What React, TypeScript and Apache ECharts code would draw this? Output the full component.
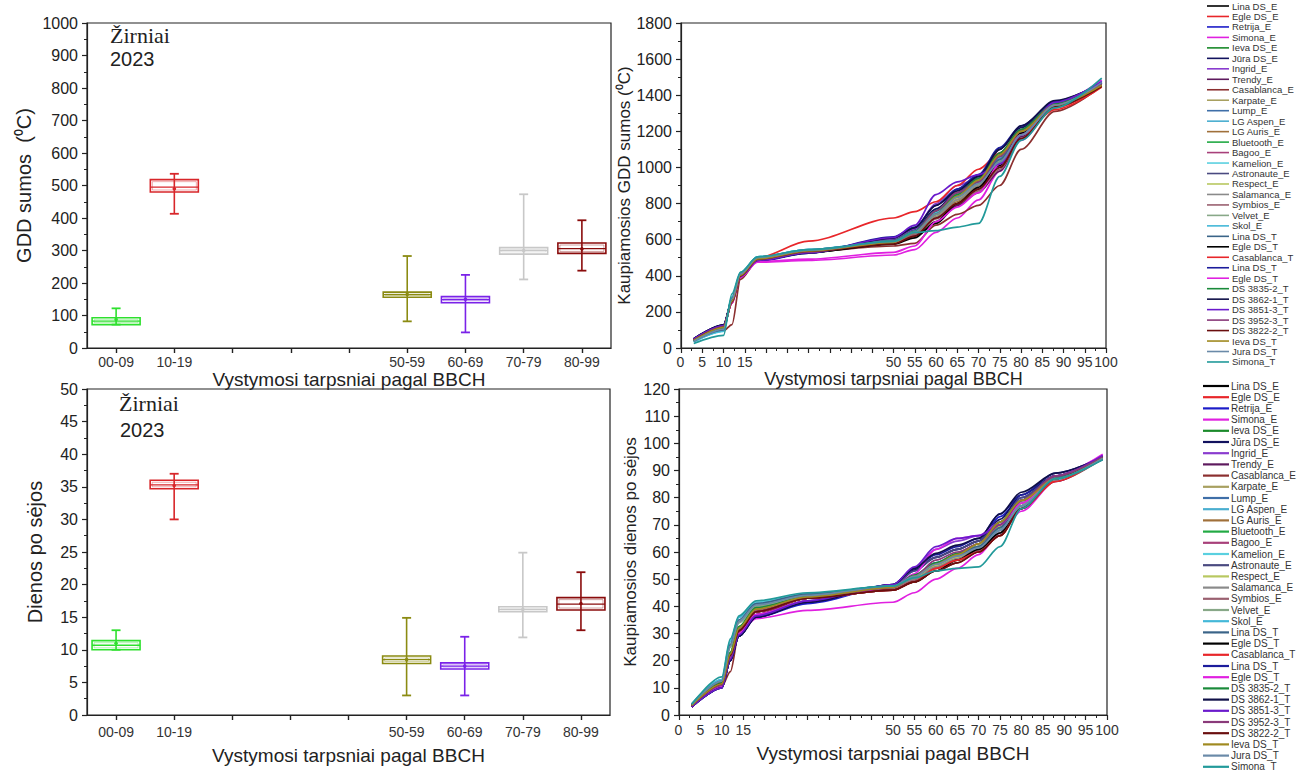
import React, { useEffect, useRef } from "react";
import * as echarts from "echarts";

// ---------- Box plot data (BBCH stage ranges) ----------
const stageLabels = ["00-09", "10-19", "", "", "", "50-59", "60-69", "70-79", "80-99"];

// GDD sums (°C)
const gddMin = [72, 413, null, null, null, 82, 48, 211, 238];
const gddQ1 = [72, 480, null, null, null, 156, 139, 289, 291];
const gddMedian = [83, 495, null, null, null, 164, 149, 300, 306];
const gddQ3 = [93, 518, null, null, null, 172, 158, 309, 323];
const gddMax = [122, 536, null, null, null, 283, 225, 473, 393];
const gddMean = [88, 490, null, null, null, 165, 150, 300, 305];

// Days after sowing
const daysMin = [10, 30, null, null, null, 3, 3, 11.9, 13];
const daysQ1 = [10, 34.7, null, null, null, 7.9, 7.05, 15.85, 16.1];
const daysMedian = [10.7, 35.3, null, null, null, 8.5, 7.5, 16.2, 17];
const daysQ3 = [11.4, 36, null, null, null, 9.05, 8, 16.6, 18];
const daysMax = [13, 37, null, null, null, 14.9, 12, 24.9, 21.9];
const daysMean = [11, 35.2, null, null, null, 8.5, 7.5, 16.2, 17.1];

const boxColors = ["#2ee02e", "#d8262a", "#888", "#888", "#888", "#8b8b12", "#7a22e8", "#c8c8c8", "#8a0c0c"];

// ---------- Line chart data ----------
const lineStages = [3, 10, 12, 14, 18, 30, 50, 55, 60, 65, 70, 75, 80, 88, 99];
const lineTickLabels = [0, 5, 10, 15, 50, 55, 60, 65, 70, 75, 80, 85, 90, 95, 100];

const varietyNames = [
  "Lina DS_E", "Egle DS_E", "Retrija_E", "Simona_E", "Ieva DS_E", "Jūra DS_E", "Ingrid_E", "Trendy_E",
  "Casablanca_E", "Karpate_E", "Lump_E", "LG Aspen_E", "LG Auris_E", "Bluetooth_E", "Bagoo_E", "Kamelion_E",
  "Astronaute_E", "Respect_E", "Salamanca_E", "Symbios_E", "Velvet_E", "Skol_E", "Lina DS_T", "Egle DS_T",
  "Casablanca_T", "Lina DS_T", "Egle DS_T", "DS 3835-2_T", "DS 3862-1_T", "DS 3851-3_T", "DS 3952-3_T",
  "DS 3822-2_T", "Ieva DS_T", "Jura DS_T", "Simona_T",
];
const varietyColors = [
  "#000000", "#e8262a", "#1c1cc8", "#e020e0", "#1a8a2a", "#12125e", "#8a3ccf", "#5e1a5e",
  "#8b2f2f", "#a8a060", "#3f6fa8", "#4aaed0", "#a0703a", "#22aa44", "#a8407a", "#5ad0e0",
  "#4a4a80", "#b8c860", "#8a8a8a", "#9a6070", "#88a888", "#44b8d8", "#3a6488", "#000000",
  "#e8262a", "#1c1c9c", "#e020e0", "#1a8a3a", "#101048", "#6a1acc", "#8a3a7a",
  "#6a0e0e", "#a08a20", "#6a8aa8", "#229a9a",
];

const gddLines = [
  [50, 125, 260, 400, 490, 530, 580, 620, 690, 790, 880, 1010, 1180, 1350, 1460],
  [45, 120, 250, 400, 495, 535, 590, 640, 730, 830, 920, 1040, 1190, 1330, 1450],
  [50, 125, 255, 395, 480, 525, 610, 660, 760, 880, 950, 1070, 1200, 1360, 1470],
  [45, 120, 250, 390, 475, 485, 515, 545, 640, 720, 820, 980, 1150, 1340, 1480],
  [40, 110, 270, 410, 495, 530, 585, 635, 730, 840, 920, 1060, 1200, 1345, 1455],
  [52, 128, 262, 400, 485, 528, 605, 655, 770, 860, 930, 1100, 1220, 1365, 1465],
  [48, 122, 255, 395, 485, 530, 600, 660, 800, 900, 940, 1000, 1160, 1350, 1470],
  [45, 118, 250, 400, 490, 535, 590, 640, 720, 790, 860, 980, 1170, 1340, 1460],
  [40, 95, 130, 380, 485, 535, 565, 580, 680, 740, 790, 900, 1100, 1310, 1450],
  [42, 115, 260, 405, 495, 540, 585, 640, 720, 820, 900, 1040, 1200, 1345, 1455],
  [38, 105, 270, 410, 500, 545, 590, 645, 745, 845, 930, 1050, 1190, 1360, 1470],
  [35, 95, 280, 415, 505, 545, 590, 645, 740, 830, 910, 1030, 1180, 1345, 1480],
  [42, 112, 262, 405, 492, 538, 580, 630, 720, 810, 900, 1020, 1180, 1335, 1450],
  [40, 110, 268, 410, 498, 540, 588, 640, 735, 835, 915, 1040, 1190, 1350, 1460],
  [44, 118, 255, 400, 490, 533, 585, 635, 730, 830, 910, 1030, 1190, 1340, 1455],
  [34, 92, 285, 418, 505, 545, 592, 648, 750, 850, 930, 1060, 1200, 1355, 1470],
  [48, 122, 258, 398, 488, 530, 598, 650, 760, 860, 940, 1080, 1210, 1360, 1465],
  [42, 114, 262, 405, 494, 538, 586, 638, 735, 830, 905, 1035, 1190, 1345, 1455],
  [42, 112, 262, 404, 492, 536, 582, 632, 725, 820, 900, 1030, 1185, 1340, 1450],
  [42, 112, 260, 402, 490, 535, 580, 628, 715, 800, 870, 990, 1160, 1335, 1450],
  [38, 105, 272, 410, 500, 542, 588, 640, 740, 835, 915, 1040, 1190, 1350, 1465],
  [35, 95, 282, 415, 505, 545, 592, 646, 748, 845, 925, 1050, 1195, 1352, 1475],
  [38, 100, 276, 412, 502, 544, 590, 642, 742, 838, 920, 1045, 1190, 1355, 1470],
  [50, 125, 262, 402, 488, 530, 575, 610, 700, 800, 890, 1020, 1190, 1360, 1460],
  [45, 118, 250, 398, 500, 592, 720, 755, 810, 900, 990, 1080, 1180, 1320, 1445],
  [50, 126, 258, 398, 485, 528, 615, 670, 790, 880, 960, 1110, 1230, 1365, 1470],
  [46, 120, 250, 392, 478, 492, 530, 565, 700, 780, 860, 1020, 1180, 1350, 1485],
  [40, 110, 268, 408, 495, 536, 590, 645, 760, 850, 940, 1080, 1210, 1355, 1460],
  [52, 128, 262, 400, 485, 526, 610, 665, 790, 870, 950, 1100, 1230, 1370, 1465],
  [50, 124, 258, 398, 485, 528, 612, 680, 850, 920, 960, 1020, 1180, 1360, 1475],
  [44, 118, 255, 400, 490, 532, 588, 640, 760, 860, 920, 1060, 1200, 1345, 1460],
  [42, 115, 255, 400, 492, 536, 575, 620, 720, 800, 880, 1000, 1160, 1335, 1450],
  [42, 114, 260, 404, 494, 538, 585, 640, 740, 840, 930, 1070, 1200, 1345, 1455],
  [38, 104, 272, 410, 500, 542, 590, 642, 740, 835, 910, 1030, 1180, 1345, 1470],
  [25, 70, 300, 420, 505, 545, 590, 640, 650, 670, 690, 950, 1150, 1330, 1495],
];

const daysLines = [
  [3, 12, 22, 31, 38, 43, 46.5, 49, 55, 59, 62, 68, 79, 88, 95],
  [3, 11, 21, 31, 38, 43, 46, 50, 54, 57, 61, 70, 77, 87, 95],
  [3, 10, 20, 29, 36, 41, 47.5, 53, 58, 61, 64, 73, 80, 88, 95],
  [3, 11, 21, 30, 35.5, 38.5, 41.5, 45, 50, 54, 59, 67, 75, 86, 95.5],
  [3.5, 12, 23, 32, 39, 43.5, 47, 51, 55, 58, 62, 69, 77, 87, 94.5],
  [3, 10, 20, 29, 36, 41.5, 48, 53.5, 58, 61, 64, 72, 81, 88, 95],
  [3, 10.5, 21, 30, 37, 42, 47.5, 54, 61, 64, 66, 71, 79, 88, 95.5],
  [3, 11, 21, 31, 38, 43, 46.5, 50, 55, 58, 61, 67, 77, 87, 95],
  [3, 10.5, 16, 30, 37, 43, 46, 49, 53, 56, 60, 66, 76, 86, 94.5],
  [3.5, 11.5, 22, 31.5, 39, 43.5, 47, 50.5, 55, 58.5, 62, 69, 78, 87, 94.5],
  [4, 12.5, 25, 34, 40, 44, 47.5, 51, 55.5, 59, 62, 68, 77, 87, 95],
  [4, 13, 27, 36, 41, 44.5, 47.5, 51, 56, 59, 61, 67, 76, 86.5, 94.5],
  [3.5, 11.5, 22, 31.5, 39, 43.5, 46.5, 50, 54, 57, 61, 68, 77, 87, 94.5],
  [3.5, 12, 23, 32.5, 39.5, 43.5, 47, 51, 55.5, 58.5, 62, 69, 78, 87, 95],
  [3, 11, 21.5, 31, 38, 43, 46.5, 50, 54.5, 58, 61.5, 68, 78, 87, 95],
  [4, 13, 27.5, 36, 41.5, 44.5, 47.5, 51, 56, 59, 61.5, 68, 77, 87, 94.5],
  [3, 10.5, 20.5, 30, 37, 42, 47.5, 53, 58, 61, 64, 71, 80, 88, 95],
  [3.5, 11.5, 22.5, 32, 39, 43.5, 47, 50.5, 55, 58, 62, 69.5, 78, 87, 94.5],
  [3.5, 11.5, 22, 31.5, 38.5, 43, 46.5, 50, 54.5, 57.5, 61, 68, 77, 87, 94.5],
  [3.5, 11.5, 22, 31.5, 38.5, 43, 46.5, 49.5, 54, 57, 60.5, 67, 77, 87, 94.5],
  [4, 12.5, 25, 34, 40, 44, 47.5, 51, 55.5, 58.5, 62, 69, 78, 87, 95],
  [4, 13, 27, 36, 41, 44.5, 47.5, 51, 56, 59, 61.5, 68, 77, 87, 94.5],
  [4, 12.5, 26, 35, 41, 44.5, 47.5, 51.5, 56, 59, 62, 69, 79, 88, 94],
  [3, 12, 22, 31, 38, 43, 46, 49, 53, 57, 61, 67, 76, 87, 95],
  [3, 11, 21, 31, 38, 43, 46, 49, 54, 57, 60, 66, 76, 86, 95],
  [3, 10, 20, 29, 36, 41.5, 48, 54, 59, 62, 65, 74, 81, 89, 95],
  [3, 10.5, 21, 30, 37, 42, 47, 52, 61, 65, 66, 70, 78, 88, 96],
  [3.5, 12, 23, 32.5, 39.5, 43.5, 47, 51.5, 56, 59.5, 63, 71, 79, 88, 95],
  [3, 10, 20, 29, 36, 41.5, 48, 54, 59.5, 62.5, 65, 74, 82, 89, 95],
  [3, 10, 20.5, 29.5, 36.5, 42, 48, 54.5, 62, 65, 66, 70, 79, 88, 95.5],
  [3.5, 11, 21.5, 31, 38, 43, 47, 51, 57, 60, 63, 70, 79, 88, 95],
  [3.5, 11.5, 22, 31, 38, 43, 46, 49, 53, 56, 60, 66, 76, 87, 94.5],
  [3.5, 11.5, 22.5, 32, 39, 43.5, 47, 51, 55.5, 59, 63, 71, 79, 87, 94.5],
  [4, 12.5, 25.5, 34.5, 40.5, 44, 47.5, 51, 55.5, 58.5, 61.5, 68, 77, 87, 94.5],
  [4, 14, 28, 36.5, 42, 45, 47.5, 50.5, 53, 54, 54.5, 62, 76, 87, 94],
];

const SANS = "Liberation Sans, Arial, sans-serif";
const SERIF = "Liberation Serif, Times New Roman, serif";

// Layout of the four panels (pixels)
const gridLayout = [
  { left: 87, top: 23, width: 524, height: 325 },
  { left: 681, top: 23, width: 425, height: 325 },
  { left: 87, top: 389, width: 523, height: 326 },
  { left: 679, top: 389, width: 428, height: 326 },
];

function boxData(mins: any[], q1: any[], med: any[], q3: any[], max: any[], mean: any[]) {
  const out: any[] = [];
  stageLabels.forEach((_, i) => {
    if (mins[i] == null) return;
    out.push([i, mins[i], q1[i], med[i], q3[i], max[i], mean[i]]);
  });
  return out;
}

function renderBox(params: any, api: any) {
  const i = api.value(0);
  const x = api.coord([i, 0])[0];
  const y = (k: number) => api.coord([i, api.value(k)])[1];
  const yMin = y(1), yQ1 = y(2), yMed = y(3), yQ3 = y(4), yMax = y(5), yMean = y(6);
  const c = boxColors[i];
  const bw = 48, cw = 9, inset = 2;
  const h = yQ1 - yQ3;
  return {
    type: "group",
    children: [
      { type: "line", shape: { x1: x, y1: yMin, x2: x, y2: yMax }, style: { stroke: c, lineWidth: 1.6 } },
      { type: "line", shape: { x1: x - cw / 2, y1: yMax, x2: x + cw / 2, y2: yMax }, style: { stroke: c, lineWidth: 1.8 } },
      { type: "line", shape: { x1: x - cw / 2, y1: yMin, x2: x + cw / 2, y2: yMin }, style: { stroke: c, lineWidth: 1.8 } },
      { type: "rect", shape: { x: x - bw / 2, y: yQ3, width: bw, height: h }, style: { fill: "none", stroke: c, lineWidth: 1.6 } },
      {
        type: "rect",
        shape: { x: x - bw / 2 + inset, y: yQ3 + inset, width: bw - 2 * inset, height: Math.max(0.5, h - 2 * inset) },
        style: { fill: "none", stroke: c, lineWidth: 0.7, opacity: 0.55 },
      },
      { type: "line", shape: { x1: x - bw / 2, y1: yMed, x2: x + bw / 2, y2: yMed }, style: { stroke: c, lineWidth: 1.3 } },
      { type: "circle", shape: { cx: x, cy: yMean, r: 1.8 }, style: { fill: c } },
    ],
  };
}

// Origin tick label of a stage axis, placed through the axis scale
function renderOriginLabel(margin: number) {
  return (params: any, api: any) => {
    const p = api.coord([api.value(0), api.value(1)]);
    return {
      type: "text",
      x: p[0],
      y: p[1] + margin,
      style: {
        text: "0\u200A", fontFamily: SANS, fontSize: 14, fill: "#333",
        align: "center", verticalAlign: "top",
      },
    };
  };
}

function legendGraphics(top: number, step: number, lineX1: number, lineX2: number, textX: number, lw: number, fs: number) {
  const els: any[] = [];
  varietyNames.forEach((name, i) => {
    const yy = top + i * step;
    els.push({ type: "line", shape: { x1: lineX1, y1: yy, x2: lineX2, y2: yy }, style: { stroke: varietyColors[i], lineWidth: lw } });
    els.push({
      type: "text", x: textX, y: yy,
      style: { text: name, fontSize: fs, fontFamily: SANS, fill: "#333", verticalAlign: "middle", align: "left" },
    });
  });
  return els;
}

const axisLineStyle = { lineStyle: { color: "#222", width: 1.2 } };

function yAxisCfg(gridIndex: number, max: number, interval: number, name: string, nameGap: number, nameSize: number) {
  return {
    type: "value", gridIndex, min: 0, max, interval,
    name, nameLocation: "middle", nameGap,
    nameTextStyle: { fontFamily: SANS, fontSize: nameSize, color: "#222" },
    axisLine: { show: true, ...axisLineStyle },
    axisTick: { show: true, length: 5, lineStyle: { color: "#222", width: 1.2 } },
    minorTick: { show: true, splitNumber: 2, length: 3, lineStyle: { color: "#222", width: 1 } },
    splitLine: { show: false },
    axisLabel: {
      fontFamily: SANS, fontSize: 16, color: "#222", margin: 9, hideOverlap: false,
      showMinLabel: true, showMaxLabel: true,
      formatter: (v: number) => String(v),
    },
  };
}

function catAxisCfg(gridIndex: number, nameGap: number, labelMargin: number) {
  return {
    type: "category", gridIndex, data: stageLabels, boundaryGap: true,
    name: "Vystymosi tarpsniai pagal BBCH", nameLocation: "middle", nameGap,
    nameTextStyle: { fontFamily: SANS, fontSize: 19, color: "#222", verticalAlign: "top" },
    axisLine: axisLineStyle,
    axisTick: { show: true, alignWithLabel: true, interval: 0, length: 5, lineStyle: { color: "#222", width: 1.4 } },
    axisLabel: { interval: 0, fontFamily: SANS, fontSize: 14, color: "#333", margin: labelMargin },
    splitLine: { show: false },
  };
}

function stageAxisCfg(gridIndex: number, nameGap: number, labelMargin: number, nameSize: number) {
  return {
    type: "value", gridIndex, min: 0, max: 100, interval: 5,
    name: "Vystymosi tarpsniai pagal BBCH", nameLocation: "middle", nameGap,
    nameTextStyle: { fontFamily: SANS, fontSize: nameSize, color: "#222", verticalAlign: "top" },
    axisLine: axisLineStyle,
    axisTick: { show: true, length: 5, lineStyle: { color: "#222", width: 1.2 } },
    minorTick: { show: true, splitNumber: 2, length: 3, lineStyle: { color: "#222", width: 1 } },
    splitLine: { show: false },
    axisLabel: {
      fontFamily: SANS, fontSize: 14, color: "#333", margin: labelMargin,
      showMinLabel: false, showMaxLabel: true, hideOverlap: false,
      formatter: (v: number) => (v !== 0 && lineTickLabels.indexOf(v) >= 0 ? String(v) : ""),
    },
  };
}

function lineSeries(values: number[][], axisIndex: number) {
  return values.map((vals, i) => ({
    type: "line",
    name: varietyNames[i],
    xAxisIndex: axisIndex,
    yAxisIndex: axisIndex,
    data: vals.map((v, j) => [lineStages[j], v]),
    smooth: 0.3,
    smoothMonotone: "x",
    showSymbol: false,
    silent: true,
    lineStyle: { color: varietyColors[i], width: 1.7 },
    itemStyle: { color: varietyColors[i] },
  }));
}

export default function App() {
  const ref = useRef<HTMLDivElement>(null);

  useEffect(() => {
    if (!ref.current) return;
    const chart = echarts.init(ref.current, null, { renderer: "svg" });
    const gridBorder = { show: true, borderColor: "#222", borderWidth: 1.2, backgroundColor: "transparent" };

    const option: any = {
      animation: false,
      backgroundColor: "#ffffff",
      textStyle: { fontFamily: SANS },
      grid: gridLayout.map((g) => ({ ...g, ...gridBorder })),
      xAxis: [
        catAxisCfg(0, 18, 7),
        stageAxisCfg(1, 19, 7, 18),
        catAxisCfg(2, 31, 10),
        stageAxisCfg(3, 29, 8, 19),
      ],
      yAxis: [
        yAxisCfg(0, 1000, 100, "GDD sumos  (⁰C)", 53, 20),
        yAxisCfg(1, 1800, 200, "Kaupiamosios GDD sumos (⁰C)", 40, 17),
        yAxisCfg(2, 50, 5, "Dienos po sėjos", 42, 20),
        yAxisCfg(3, 120, 10, "Kaupiamosios dienos po sėjos", 37, 17),
      ],
      series: [
        {
          type: "custom", name: "GDD", xAxisIndex: 0, yAxisIndex: 0,
          data: boxData(gddMin, gddQ1, gddMedian, gddQ3, gddMax, gddMean),
          renderItem: renderBox, encode: { x: 0, y: [1, 2, 3, 4, 5] }, silent: true,
        },
        {
          type: "custom", name: "Dienos", xAxisIndex: 2, yAxisIndex: 2,
          data: boxData(daysMin, daysQ1, daysMedian, daysQ3, daysMax, daysMean),
          renderItem: renderBox, encode: { x: 0, y: [1, 2, 3, 4, 5] }, silent: true,
        },
        ...lineSeries(gddLines, 1),
        ...lineSeries(daysLines, 3),
        {
          type: "custom", name: "origin1", xAxisIndex: 1, yAxisIndex: 1, clip: false, silent: true, z: 50,
          data: [[lineTickLabels[0], 0]], renderItem: renderOriginLabel(7),
        },
        {
          type: "custom", name: "origin3", xAxisIndex: 3, yAxisIndex: 3, clip: false, silent: true, z: 50,
          data: [[lineTickLabels[0], 0]], renderItem: renderOriginLabel(8),
        },
      ],
      graphic: [
        { type: "text", x: 110, y: 24, style: { text: "Žirniai", fontFamily: SERIF, fontSize: 22, fill: "#222" } },
        { type: "text", x: 110, y: 49, style: { text: "2023", fontFamily: SANS, fontSize: 20, fill: "#222" } },
        { type: "text", x: 119, y: 392, style: { text: "Žirniai", fontFamily: SERIF, fontSize: 22, fill: "#222" } },
        { type: "text", x: 120, y: 420, style: { text: "2023", fontFamily: SANS, fontSize: 20, fill: "#222" } },
        ...legendGraphics(6, 10.47, 1207, 1229, 1232, 1.6, 9.5),
        ...legendGraphics(386, 11.2, 1203, 1229, 1231, 2.2, 10),
      ],
    };

    chart.setOption(option);
    return () => chart.dispose();
  }, []);

  return (
    <div
      ref={ref}
      style={{ position: "absolute", left: 0, top: 0, width: 1310, height: 771, background: "#fff" }}
    />
  );
}
